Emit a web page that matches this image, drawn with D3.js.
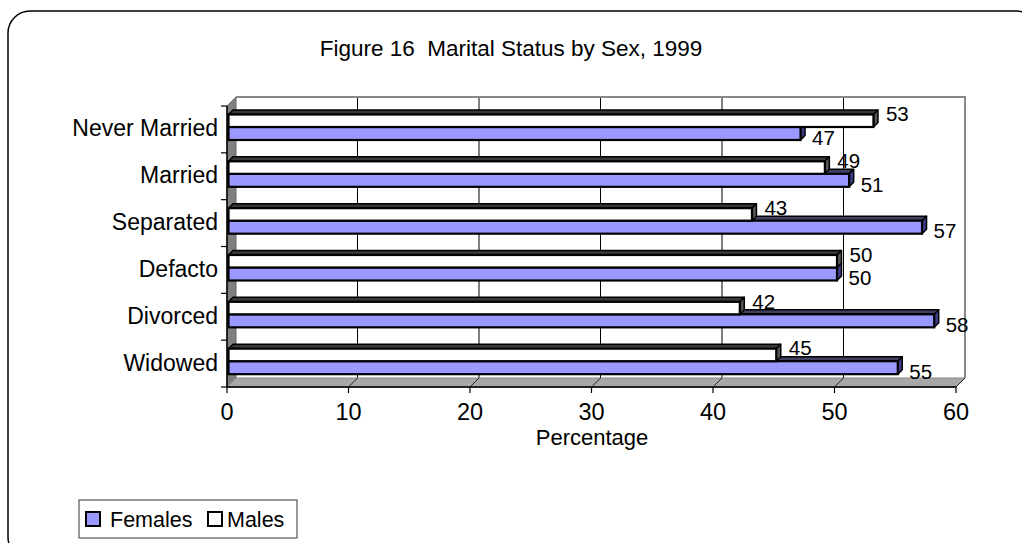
<!DOCTYPE html>
<html><head><meta charset="utf-8">
<script src="https://cdn.jsdelivr.net/npm/d3@7"></script>
<style>
html,body{margin:0;padding:0;background:#fff;}
text{font-family:"Liberation Sans",Arial,sans-serif;fill:#000;white-space:pre;}
</style></head>
<body>
<svg id="chart" width="1022" height="543"></svg>
<script>
const categories = ["Never Married","Married","Separated","Defacto","Divorced","Widowed"];
const females = [47,51,57,50,58,55];
const males = [53,49,43,50,42,45];
const xTicks = [0,10,20,30,40,50,60];
const seriesNames = ["Females","Males"];
const title = "Figure 16  Marital Status by Sex, 1999";
const xTitle = "Percentage";

const svg = d3.select("#chart");
const DX = 9, DY = 9;            // 3D depth offset of back wall
const front = {left:227, right:956, top:106, bottom:387};
const x = d3.scaleLinear().domain([0,60]).range([front.left, front.right]);
const y = d3.scaleBand().domain(categories).range([front.top, front.bottom]);
const FEM = "#9999FF";

// outer rounded frame
svg.append("rect").attr("x",8).attr("y",11).attr("width",1030).attr("height",548)
  .attr("rx",22).attr("ry",22).attr("fill","#fff").attr("stroke","#000").attr("stroke-width",1.5);

// title
svg.append("text").attr("x",511).attr("y",56).attr("text-anchor","middle")
  .attr("xml:space","preserve")
  .style("font-size","22.5px").text(title);

const g = svg.append("g");
// back wall
g.append("rect").attr("x",front.left+DX).attr("y",front.top-DY)
  .attr("width",front.right-front.left).attr("height",front.bottom-front.top)
  .attr("fill","#fff").attr("stroke","none");
// back wall gridlines
g.selectAll(".grid").data(xTicks.slice(1,-1)).join("line")
  .attr("x1",d=>x(d)+DX).attr("x2",d=>x(d)+DX)
  .attr("y1",front.top-DY).attr("y2",front.bottom-DY)
  .attr("stroke","#000").attr("stroke-width",1);
// back wall border (top & right)
g.append("path")
  .attr("d",`M${front.left+DX},${front.top-DY}H${front.right+DX}V${front.bottom-DY}`)
  .attr("fill","none").attr("stroke","#888").attr("stroke-width",2);
// left wall
g.append("path")
  .attr("d",`M${front.left},${front.top}L${front.left+DX},${front.top-DY}L${front.left+DX},${front.bottom-DY}L${front.left},${front.bottom}Z`)
  .attr("fill","#808080").attr("stroke","#666").attr("stroke-width",1);
// floor
g.append("path")
  .attr("d",`M${front.left},${front.bottom}L${front.left+DX},${front.bottom-DY}L${front.right+DX},${front.bottom-DY}L${front.right},${front.bottom}Z`)
  .attr("fill","#a8a8a8").attr("stroke","#888").attr("stroke-width",1);
// floor gridlines
g.selectAll(".fgrid").data(xTicks.slice(1)).join("line")
  .attr("x1",d=>x(d)+DX).attr("y1",front.bottom-DY)
  .attr("x2",d=>x(d)).attr("y2",front.bottom)
  .attr("stroke","#222").attr("stroke-width",1);
// front x axis line + ticks
g.append("line").attr("x1",front.left).attr("x2",front.right)
  .attr("y1",front.bottom).attr("y2",front.bottom).attr("stroke","#222").attr("stroke-width",2);
g.selectAll(".xt").data(xTicks).join("line")
  .attr("x1",d=>x(d)).attr("x2",d=>x(d)).attr("y1",front.bottom).attr("y2",front.bottom+6)
  .attr("stroke","#000").attr("stroke-width",1.2);
g.selectAll(".xl").data(xTicks).join("text")
  .attr("x",d=>x(d)).attr("y",420).attr("text-anchor","middle")
  .style("font-size","23.5px").text(d=>d);
// x title
svg.append("text").attr("x",592).attr("y",445).attr("text-anchor","middle")
  .style("font-size","22px").text(xTitle);

// left axis
g.append("line").attr("x1",front.left).attr("x2",front.left)
  .attr("y1",front.top).attr("y2",front.bottom).attr("stroke","#000").attr("stroke-width",1.5);
const bounds = categories.map(c=>y(c)).concat([front.bottom]);
g.selectAll(".yt").data(bounds).join("line")
  .attr("x1",front.left-6).attr("x2",front.left).attr("y1",d=>d).attr("y2",d=>d)
  .attr("stroke","#000").attr("stroke-width",1.2);
g.selectAll(".yl").data(categories).join("text")
  .attr("x",218).attr("y",c=>y(c)+y.bandwidth()/2-1).attr("dy","0.35em")
  .attr("text-anchor","end").style("font-size","23px").text(c=>c);

// 3D bars
const D = 4.5;
function bar(parent, v, top, h, face, side, topc){
  const x0 = x(0)+1.5, x1 = x(v)+2.5, y0 = top, y1 = top+h;
  const b = parent.append("g");
  b.append("path").attr("d",`M${x0},${y0}L${x0+D},${y0-D}L${x1+D},${y0-D}L${x1},${y0}Z`)
    .attr("fill",topc).attr("stroke","#000").attr("stroke-width",1.5).attr("stroke-linejoin","round");
  b.append("path").attr("d",`M${x1},${y0}L${x1+D},${y0-D}L${x1+D},${y1-D}L${x1},${y1}Z`)
    .attr("fill",side).attr("stroke","#000").attr("stroke-width",1.5).attr("stroke-linejoin","round");
  b.append("rect").attr("x",x0).attr("y",y0).attr("width",x1-x0).attr("height",h)
    .attr("fill",face).attr("stroke","#000").attr("stroke-width",2.2);
  return x1+D;
}
const bars = g.append("g");
const labels = svg.append("g").style("font-size","20.5px");
categories.forEach((c,i)=>{
  const b = y(c);
  const mTop = b+8.5, fTop = b+21, h = 13;
  const fe = bar(bars, females[i], fTop, h, FEM, "#3c3c88", "#404060");
  const me = bar(bars, males[i], mTop, h-0.5, "#fff", "#555", "#383838");
  labels.append("text").attr("x",me+8).attr("y",mTop+h/2-7).attr("dy","0.35em").text(males[i]);
  labels.append("text").attr("x",fe+7).attr("y",fTop+h/2+4).attr("dy","0.35em").text(females[i]);
});

// legend
const lg = svg.append("g");
lg.append("rect").attr("x",79).attr("y",500).attr("width",218).attr("height",38)
  .attr("fill","#fff").attr("stroke","#333").attr("stroke-width",1);
const legX = [86, 208];
const legFill = [FEM, "#fff"];
seriesNames.forEach((s,i)=>{
  lg.append("rect").attr("x",legX[i]).attr("y",512).attr("width",14).attr("height",14)
    .attr("fill",legFill[i]).attr("stroke","#000").attr("stroke-width",2);
  lg.append("text").attr("x",legX[i]+(i===0?24:19)).attr("y",527)
    .style("font-size","21.5px").text(s);
});
</script>
</body></html>
